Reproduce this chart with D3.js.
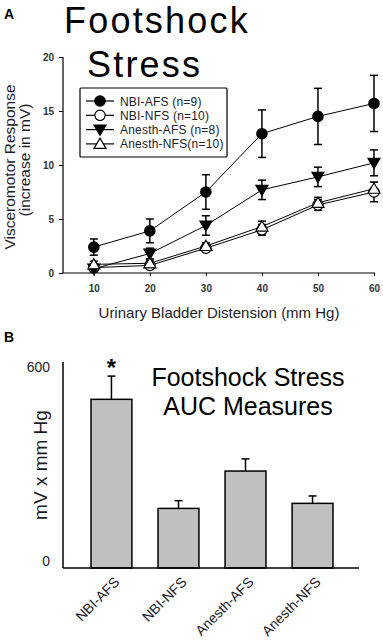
<!DOCTYPE html>
<html>
<head>
<meta charset="utf-8">
<script src="https://cdn.jsdelivr.net/npm/d3@7"></script>
<style>
  body { margin: 0; background: #fff; }
  svg { display: block; font-family: "Liberation Sans", Arial, sans-serif; }
</style>
</head>
<body>
<div id="chart"></div>
<script>
// panel A data
const pressures = [10, 20, 30, 40, 50, 60];
const seriesNames = ["NBI-AFS (n=9)", "NBI-NFS (n=10)", "Anesth-AFS (n=8)", "Anesth-NFS(n=10)"];
const nbiAfs = [2.4, 3.9, 7.5, 12.9, 14.5, 15.7];
const nbiAfsErr = [0.75, 1.1, 1.6, 2.2, 2.6, 2.6];
const nbiNfs = [0.5, 0.7, 2.3, 4.0, 6.3, 7.5];
const nbiNfsErr = [0.3, 0.3, 0.3, 0.5, 0.5, 0.9];
const anAfs = [0.4, 1.8, 4.4, 7.7, 8.9, 10.2];
const anAfsErr = [0.3, 0.5, 0.9, 0.9, 0.9, 1.2];
const anNfs = [0.8, 0.9, 2.5, 4.3, 6.5, 7.8];
const anNfsErr = [0.3, 0.3, 0.3, 0.5, 0.5, 0.6];
const yTicksA = [0, 5, 10, 15, 20];

// panel B data
const groups = ["NBI-AFS", "NBI-NFS", "Anesth-AFS", "Anesth-NFS"];
const auc = [501, 177, 288, 192];
const aucErr = [69, 23, 36, 22];
const yTicksB = [0, 600];

const config = {
  width: 383,
  height: 643,
  textColor: "#1c1c2a",
  container: d3.select("#chart").append("svg")
};
config.container.attr("width", config.width).attr("height", config.height);
const svg = config.container;

// ---------- panel A ----------
const xA = d3.scaleLinear().domain([4.5, 60]).range([63, 374]);
const yA = d3.scaleLinear().domain([0, 20]).range([273, 57]);

svg.append("text").attr("x", 4).attr("y", 19)
  .attr("font-size", 14).attr("font-weight", "bold").text("A");

svg.append("text").attr("x", 64).attr("y", 33)
  .attr("font-size", 36).attr("letter-spacing", 2.2).text("Footshock");
svg.append("text").attr("x", 87).attr("y", 77)
  .attr("font-size", 36).attr("letter-spacing", 2.2).text("Stress");

const yAxisA = d3.axisLeft(yA).tickValues(yTicksA).tickSize(4).tickPadding(5);
const gya = svg.append("g").attr("transform", "translate(63,0)").call(yAxisA);
const xAxisA = d3.axisBottom(xA).tickValues(pressures).tickSize(3).tickPadding(9);
const gxa = svg.append("g").attr("transform", "translate(0,273)").call(xAxisA);
[gya, gxa].forEach(g => {
  g.select(".domain").attr("stroke", "#000").attr("stroke-width", 1.2);
  g.selectAll("text").attr("font-size", 10).attr("font-weight", "bold")
    .attr("fill", "#333").attr("font-family", "Liberation Sans, Arial, sans-serif");
});
gya.select(".domain").attr("d", "M0,57V273");
gxa.select(".domain").attr("d", "M63,0H375");

svg.append("text").attr("transform", "translate(15,167) rotate(-90)")
  .attr("text-anchor", "middle").attr("font-size", 15.5).attr("fill", config.textColor)
  .text("Visceromotor Response");
svg.append("text").attr("transform", "translate(30,160) rotate(-90)")
  .attr("text-anchor", "middle").attr("font-size", 15.5).attr("fill", config.textColor)
  .text("(increase in mV)");

svg.append("text").attr("x", 219).attr("y", 318)
  .attr("text-anchor", "middle").attr("font-size", 15).attr("fill", config.textColor)
  .text("Urinary Bladder Distension (mm Hg)");

const series = [
  { name: seriesNames[0], vals: nbiAfs, err: nbiAfsErr, shape: "circle", fill: "#000" },
  { name: seriesNames[1], vals: nbiNfs, err: nbiNfsErr, shape: "circle", fill: "#fff" },
  { name: seriesNames[2], vals: anAfs, err: anAfsErr, shape: "triDown", fill: "#000" },
  { name: seriesNames[3], vals: anNfs, err: anNfsErr, shape: "triUp", fill: "#fff" }
];

function marker(g, shape, fill) {
  if (shape === "circle") {
    return g.append("circle").attr("r", 5.2).attr("fill", fill)
      .attr("stroke", "#000").attr("stroke-width", 1.2);
  }
  const s = 6;
  const d = shape === "triDown"
    ? `M${-s},${-s * 0.75}L${s},${-s * 0.75}L0,${s * 0.95}Z`
    : `M${-s},${s * 0.75}L${s},${s * 0.75}L0,${-s * 0.95}Z`;
  return g.append("path").attr("d", d).attr("fill", fill)
    .attr("stroke", "#000").attr("stroke-width", 1.2);
}

const line = d3.line().x((d, i) => xA(pressures[i])).y(d => yA(d));

series.forEach(s => {
  const g = svg.append("g");
  // error bars
  s.vals.forEach((v, i) => {
    const x = xA(pressures[i]);
    g.append("line").attr("x1", x).attr("x2", x)
      .attr("y1", yA(v - s.err[i])).attr("y2", yA(v + s.err[i]))
      .attr("stroke", "#000").attr("stroke-width", 1.5);
    [v - s.err[i], v + s.err[i]].forEach(e => {
      g.append("line").attr("x1", x - 4).attr("x2", x + 4)
        .attr("y1", yA(e)).attr("y2", yA(e))
        .attr("stroke", "#000").attr("stroke-width", 1.5);
    });
  });
  g.append("path").attr("d", line(s.vals)).attr("fill", "none")
    .attr("stroke", "#000").attr("stroke-width", 1);
});
series.forEach(s => {
  s.vals.forEach((v, i) => {
    const m = svg.append("g").attr("transform", `translate(${xA(pressures[i])},${yA(v)})`);
    marker(m, s.shape, s.fill);
  });
});

// legend
svg.append("rect").attr("x", 80).attr("y", 88).attr("width", 147).attr("height", 69)
  .attr("fill", "#fff").attr("stroke", "#000").attr("stroke-width", 1.2).attr("rx", 1);
series.forEach((s, i) => {
  const ly = 101 + i * 14.3;
  svg.append("line").attr("x1", 86).attr("x2", 114).attr("y1", ly).attr("y2", ly)
    .attr("stroke", "#000").attr("stroke-width", 1.2);
  const m = svg.append("g").attr("transform", `translate(100,${ly})`);
  marker(m, s.shape, s.fill);
  svg.append("text").attr("x", 120).attr("y", ly + 4.5)
    .attr("font-size", 12).attr("letter-spacing", 0.2).attr("fill", config.textColor).text(s.name);
});

// ---------- panel B ----------
const xB = d3.scaleBand().domain(groups).range([91, 333]).paddingInner(0.39).paddingOuter(0);
const yB = d3.scaleLinear().domain([0, 600]).range([568, 366]);

svg.append("text").attr("x", 4).attr("y", 342)
  .attr("font-size", 14).attr("font-weight", "bold").text("B");

svg.append("text").attr("x", 248).attr("y", 386)
  .attr("text-anchor", "middle").attr("font-size", 25).text("Footshock Stress");
svg.append("text").attr("x", 248).attr("y", 415)
  .attr("text-anchor", "middle").attr("font-size", 25).text("AUC Measures");

svg.selectAll(".barErr").data(groups).enter().append("g").each(function (d, i) {
  const g = d3.select(this);
  const cx = xB(d) + xB.bandwidth() / 2;
  g.append("line").attr("x1", cx).attr("x2", cx)
    .attr("y1", yB(auc[i])).attr("y2", yB(auc[i] + aucErr[i]))
    .attr("stroke", "#000").attr("stroke-width", 1.5);
  g.append("line").attr("x1", cx - 4).attr("x2", cx + 4)
    .attr("y1", yB(auc[i] + aucErr[i])).attr("y2", yB(auc[i] + aucErr[i]))
    .attr("stroke", "#000").attr("stroke-width", 1.5);
});

svg.selectAll(".bar").data(groups).enter().append("rect")
  .attr("x", d => xB(d))
  .attr("y", (d, i) => yB(auc[i]))
  .attr("width", xB.bandwidth())
  .attr("height", (d, i) => yB(0) - yB(auc[i]))
  .attr("fill", "#c0c0c0").attr("stroke", "#000").attr("stroke-width", 1.5);

svg.append("text").attr("x", xB(groups[0]) + xB.bandwidth() / 2).attr("y", 376)
  .attr("text-anchor", "middle").attr("font-size", 24).attr("font-weight", "bold").text("*");

// axes B
svg.append("line").attr("x1", 63).attr("x2", 63).attr("y1", 362).attr("y2", 568)
  .attr("stroke", "#000").attr("stroke-width", 1.5);
svg.append("line").attr("x1", 63).attr("x2", 359).attr("y1", 568).attr("y2", 568)
  .attr("stroke", "#000").attr("stroke-width", 1.5);
svg.selectAll(".ytB").data(yTicksB).enter().append("text")
  .attr("x", 50).attr("y", d => yB(d) + (d === 0 ? -2 : 6))
  .attr("text-anchor", "end").attr("font-size", 14).attr("fill", config.textColor)
  .text(d => d);

svg.selectAll(".xtB").data(groups).enter().append("text")
  .attr("transform", d => `translate(${xB(d) + xB.bandwidth() / 2 + 9},${583}) rotate(-45)`)
  .attr("text-anchor", "end").attr("font-size", 14).attr("fill", config.textColor)
  .text(d => d);

svg.append("text").attr("transform", "translate(47,465) rotate(-90)")
  .attr("text-anchor", "middle").attr("font-size", 19).attr("fill", config.textColor)
  .text("mV x mm Hg");
</script>
</body>
</html>
